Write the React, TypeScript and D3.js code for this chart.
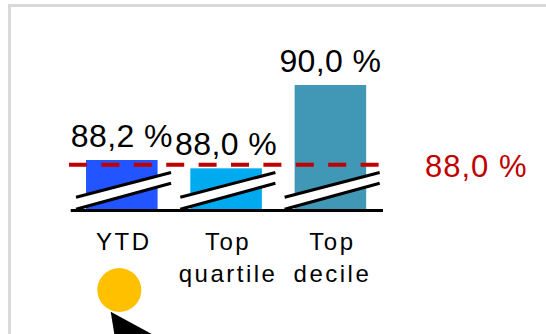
import React from "react";
import * as d3 from "d3";

const categories: string[][] = [["YTD"], ["Top", "quartile"], ["Top", "decile"]];
const categoryKeys = ["YTD", "Top quartile", "Top decile"];
const values = [88.2, 88.0, 90.0];
const valueLabels = ["88,2 %", "88,0 %", "90,0 %"];
const barColors = ["#2255FF", "#00AAEE", "#4198B6"];
const referenceValue = 88.0;
const referenceLabel = "88,0 %";
const axisMin = 87;
const axisMax = 90;

const W = 546;
const H = 334;
const FONT = "'Liberation Sans', Arial, sans-serif";

export default function App() {
  const x = d3
    .scaleBand<string>()
    .domain(categoryKeys)
    .range([70.7, 381.5])
    .paddingInner(0.314)
    .paddingOuter(0.147);
  const y = d3.scaleLinear().domain([axisMin, axisMax]).range([210, 85]);
  const bw = x.bandwidth();
  const base = y(axisMin);
  const refY = y(referenceValue) - 3.5;

  return (
    <div style={{ position: "fixed", left: 0, top: 0, width: W, height: H }}>
      <svg width={W} height={H} style={{ display: "block" }}>
        <rect x={0} y={0} width={W} height={H} fill="#fff" />
        <rect x={9.5} y={5.5} width={W + 50} height={H + 50} fill="none" stroke="#D9D9D9" strokeWidth={3} />
        {categoryKeys.map((k, i) => {
          const bx = x(k)!;
          const top = y(values[i]);
          return (
            <g key={k}>
              <rect x={bx} y={top} width={bw} height={base - top} fill={barColors[i]} />
              <text
                x={bx + bw / 2}
                y={top - 13}
                textAnchor="middle"
                fontFamily={FONT}
                fontSize={32}
                letterSpacing={0.4}
                fill="#000"
              >
                {valueLabels[i]}
              </text>
            </g>
          );
        })}
        <line
          x1={69}
          x2={383}
          y1={refY}
          y2={refY}
          stroke="#C00000"
          strokeWidth={4}
          strokeDasharray="18 14.4"
        />
        {categoryKeys.map((k) => {
          const bx = x(k)!;
          const x0 = bx - 10;
          const x1 = bx + bw + 13.5;
          return (
            <g key={"b" + k}>
              <polygon
                points={`${x0},${base - 12.7} ${x1},${base - 37.5} ${x1},${base - 26.7} ${x0},${base - 0.7}`}
                fill="#fff"
              />
              <line x1={x0} y1={base - 12.7} x2={x1} y2={base - 37.5} stroke="#000" strokeWidth={3} />
              <line x1={x0} y1={base - 0.7} x2={x1} y2={base - 26.7} stroke="#000" strokeWidth={3} />
            </g>
          );
        })}
        <line x1={70.7} x2={383} y1={base + 0.5} y2={base + 0.5} stroke="#000" strokeWidth={3} />
        {categoryKeys.map((k, i) => (
          <text
            key={"c" + k}
            y={base + 40}
            textAnchor="middle"
            fontFamily={FONT}
            fontSize={24}
            letterSpacing={2.5}
            fill="#000"
          >
            {categories[i].map((line, j) => (
              <tspan key={j} x={x(k)! + bw / 2 + 2} dy={j === 0 ? 0 : 32}>
                {line}
              </tspan>
            ))}
          </text>
        ))}
        <text
          x={425}
          y={refY + 11.7}
          fontFamily={FONT}
          fontSize={31}
          letterSpacing={1}
          fill="#C00000"
        >
          {referenceLabel}
        </text>
        <circle cx={119.3} cy={290} r={22} fill="#FFC000" />
        <polygon points="110.7,311.7 116.1,345 171.9,345" fill="#000" />
      </svg>
    </div>
  );
}
